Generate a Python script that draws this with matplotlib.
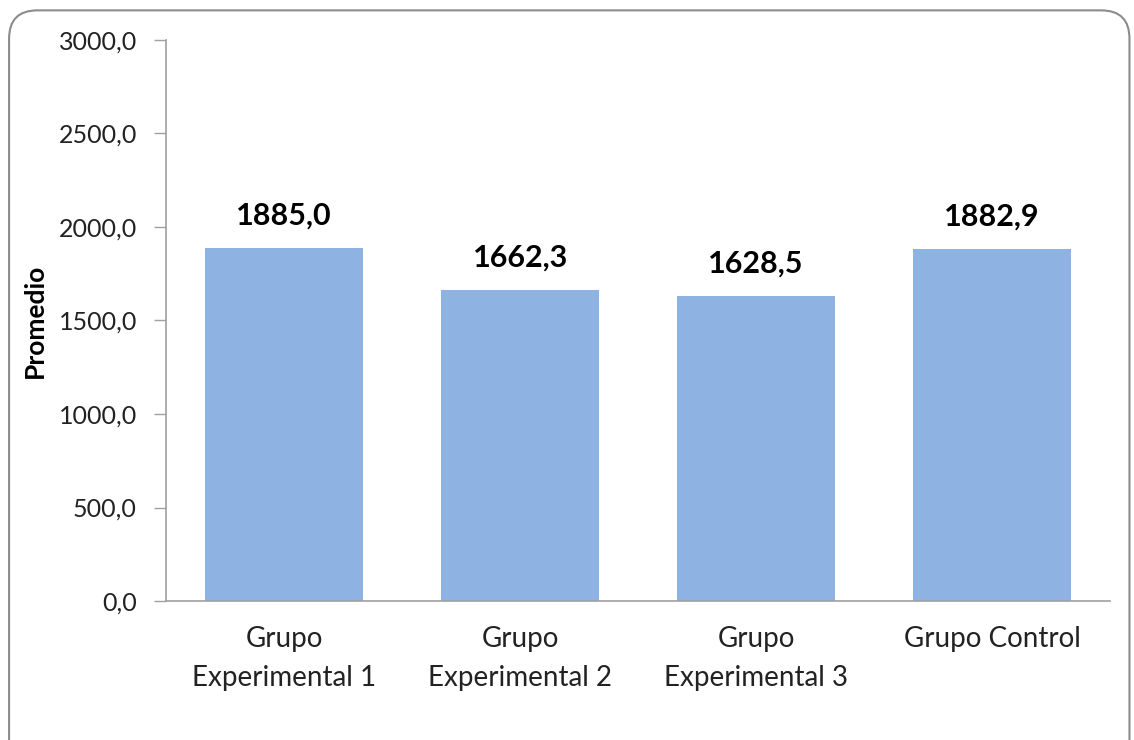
import matplotlib
matplotlib.use("Agg")
import matplotlib.pyplot as plt
from matplotlib.patches import FancyBboxPatch

categories = ["Grupo\nExperimental 1", "Grupo\nExperimental 2", "Grupo\nExperimental 3", "Grupo Control"]
values = [1885.0, 1662.3, 1628.5, 1882.9]
yticks = [0, 500, 1000, 1500, 2000, 2500, 3000]

plt.rcParams['font.family'] = ['Lato', 'DejaVu Sans']

fig = plt.figure(figsize=(11.34, 7.4), dpi=100)
ax = fig.add_axes([0.1464, 0.1878, 0.8326, 0.7582])

# rounded border round the chart area (bottom runs off the image)
border = FancyBboxPatch((0.008, -0.05), 0.988, 1.036, boxstyle="round,pad=0,rounding_size=0.025",
                        transform=fig.transFigure, facecolor="none", edgecolor="#8C8C8C",
                        linewidth=1.5, mutation_aspect=1134/740)
fig.patches.append(border)

x = range(len(categories))
bars = ax.bar(x, values, width=0.67, color="#8EB3E2", zorder=2)

for xi, v in zip(x, values):
    ax.text(xi, v + 100, f"{v:.1f}".replace(".", ","), ha="center", va="bottom",
            fontsize=22, fontweight="bold", color="#000000")

ax.set_xlim(-0.5, len(categories) - 0.5)
ax.set_ylim(0, 3000)
ax.set_yticks(yticks)
ax.set_yticklabels([f"{t:.1f}".replace(".", ",") for t in yticks], fontsize=18, color="#222222")
ax.set_xticks(list(x))
ax.set_xticklabels(categories, fontsize=20, color="#222222", linespacing=1.6)
ax.tick_params(axis="x", length=0, pad=18)
ax.tick_params(axis="y", length=9, width=1, color="#A0A0A0", pad=12)

for s in ["top", "right"]:
    ax.spines[s].set_visible(False)
for s in ["left", "bottom"]:
    ax.spines[s].set_color("#A0A0A0")
    ax.spines[s].set_linewidth(1.2)

ax.set_ylabel("Promedio", fontsize=19, fontweight="bold", labelpad=8)

fig.savefig("out.png", dpi=100)
